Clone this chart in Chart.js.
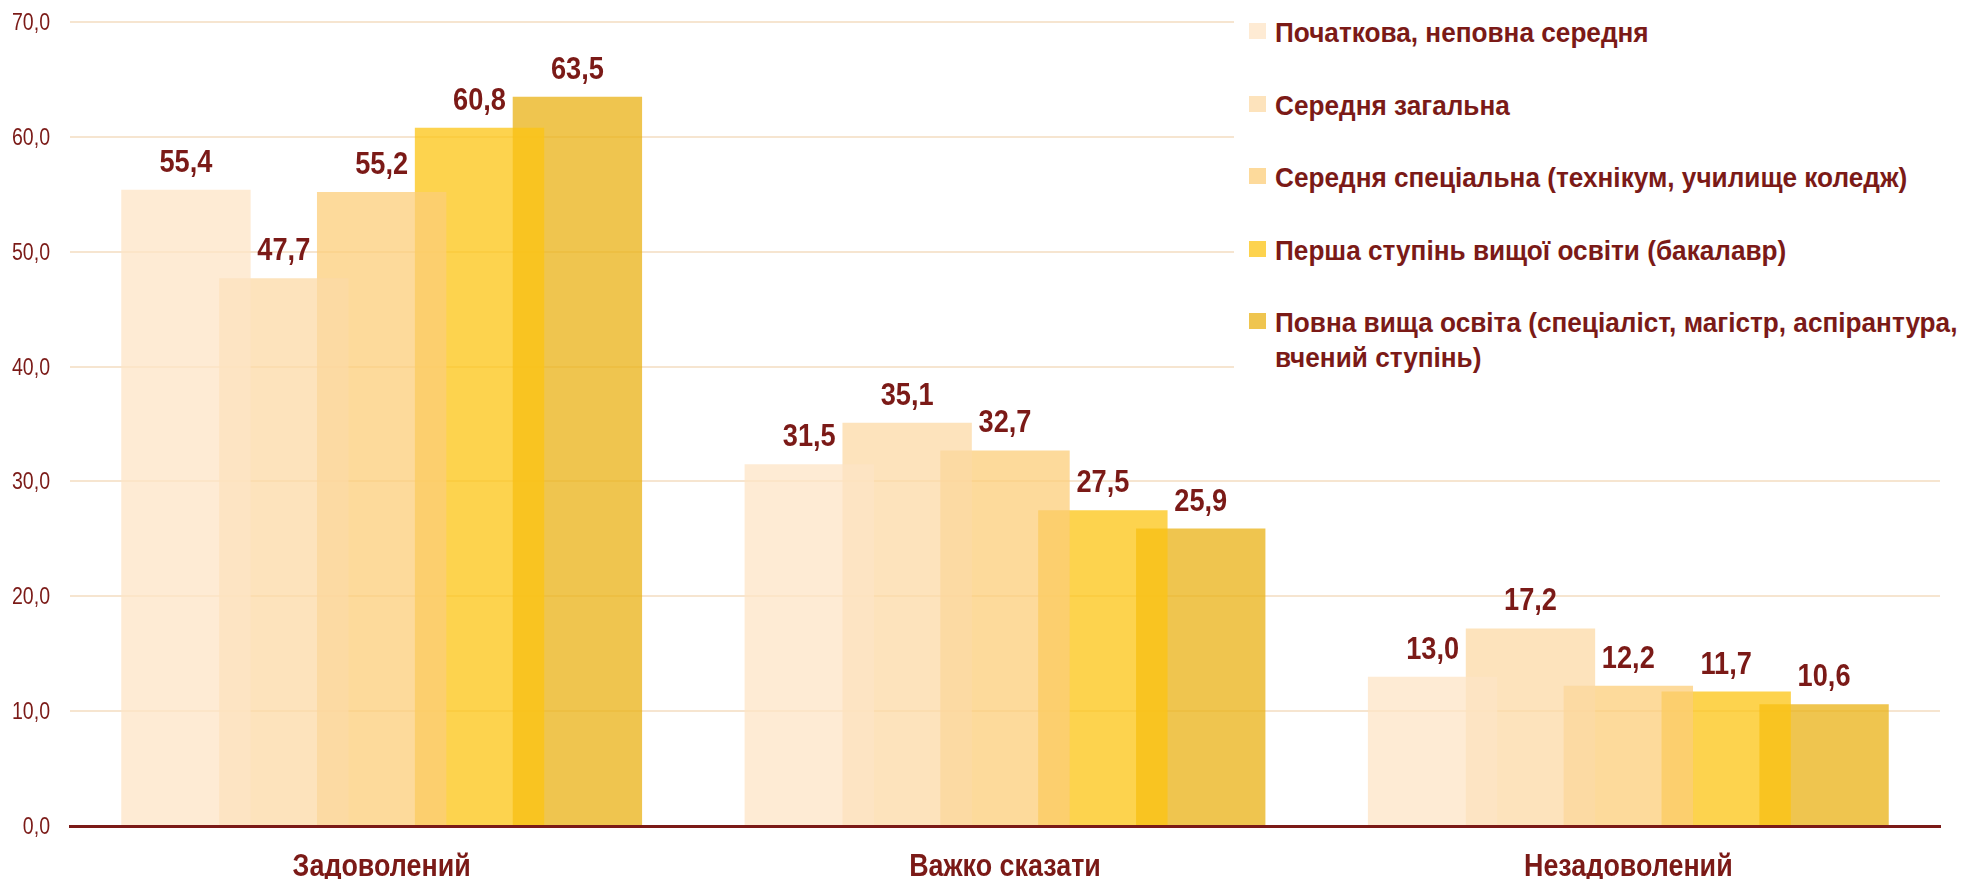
<!DOCTYPE html>
<html>
<head>
<meta charset="utf-8">
<script src="https://cdn.jsdelivr.net/npm/chart.js@4.4.1/dist/chart.umd.min.js"></script>
<style>
    body { margin: 0; background: #fff; }
    #wrap { position: relative; width: 1964px; height: 879px; overflow: hidden; }
    #legend {
        position: absolute; left: 1234px; top: 0; width: 730px; height: 378px;
        background: #fff; box-sizing: border-box; padding: 15px 0 0 15px;
        font-family: 'Liberation Sans', Arial, sans-serif;
        font-weight: bold; font-size: 28px; line-height: 35px; color: #7b1a17;
    }
    #legend ul { list-style: none; margin: 0; padding: 0; }
    #legend li { display: flex; align-items: flex-start; margin-bottom: 37.5px; }
    #legend .box { flex: none; width: 17px; height: 16px; margin: 8px 9px 0 0; }
    #legend .txt { flex: none; display: block; width: 770px; transform: scaleX(0.935); transform-origin: left top; }
</style>
</head>
<body>
<div id="wrap">
    <canvas id="eduChart" width="1964" height="879"></canvas>
    <div id="legend"></div>
</div>
<script>
const categories = ['Задоволений', 'Важко сказати', 'Незадоволений'];
const seriesNames = [
    'Початкова, неповна середня',
    'Середня загальна',
    'Середня спеціальна (технікум, училище коледж)',
    'Перша ступінь вищої освіти (бакалавр)',
    'Повна вища освіта (спеціаліст, магістр, аспірантура, вчений ступінь)'
];
const primary = [55.4, 31.5, 13.0];
const secondaryGeneral = [47.7, 35.1, 17.2];
const secondarySpecial = [55.2, 32.7, 12.2];
const bachelor = [60.8, 27.5, 11.7];
const fullHigher = [63.5, 25.9, 10.6];
const yTicks = [0, 10, 20, 30, 40, 50, 60, 70];

const colors = [
    'rgba(254, 228, 198, 0.75)',
    'rgba(252, 218, 166, 0.75)',
    'rgba(252, 206, 122, 0.75)',
    'rgba(252, 196, 19, 0.75)',
    'rgba(234, 178, 20, 0.75)'
];
const darkRed = '#7b1a17';
const fmt = v => v.toFixed(1).replace('.', ',');
const allSeries = [primary, secondaryGeneral, secondarySpecial, bachelor, fullHigher];

// narrow text: Arial Narrow is not installed, so squeeze Liberation Sans
function narrowText(ctx, text, x, y, font, sx, align) {
    ctx.save();
    ctx.font = font;
    ctx.fillStyle = darkRed;
    ctx.textAlign = align;
    ctx.textBaseline = 'alphabetic';
    ctx.translate(x, y);
    ctx.scale(sx, 1);
    ctx.fillText(text, 0, 0);
    ctx.restore();
}

const textPlugin = {
    id: 'textPlugin',
    afterDraw(chart) {
        const ctx = chart.ctx;
        const xs = chart.scales.x, ys = chart.scales.y;
        // value labels
        chart.data.datasets.forEach((ds, i) => {
            chart.getDatasetMeta(i).data.forEach((bar, j) => {
                narrowText(ctx, fmt(ds.data[j]), bar.x, bar.y - 18,
                    "bold 32px 'Liberation Sans', sans-serif", 0.85, 'center');
            });
        });
        // category labels
        chart.data.labels.forEach((lab, i) => {
            narrowText(ctx, lab, xs.getPixelForTick(i), 876,
                "bold 32px 'Liberation Sans', sans-serif", 0.84, 'center');
        });
        // y tick labels
        ys.ticks.forEach(t => {
            narrowText(ctx, fmt(t.value), 50, ys.getPixelForValue(t.value) + 8,
                "23px 'Liberation Sans', sans-serif", 0.85, 'right');
        });
    }
};

const ctx = document.getElementById('eduChart').getContext('2d');
const chart = new Chart(ctx, {
    type: 'bar',
    data: {
        labels: categories,
        datasets: allSeries.map((d, i) => ({
            label: seriesNames[i],
            data: d,
            backgroundColor: colors[i],
            borderWidth: 0,
            categoryPercentage: 0.785,
            barPercentage: 1.322
        }))
    },
    options: {
        responsive: false,
        animation: false,
        layout: { padding: { top: 22, right: 24, left: 0, bottom: 0 } },
        plugins: {
            legend: { display: false },
            tooltip: { enabled: false }
        },
        scales: {
            x: {
                afterFit: s => { s.height = 53; },
                grid: { display: false, drawTicks: false },
                border: { color: darkRed, width: 3, z: 1 },
                ticks: { display: false }
            },
            y: {
                min: 0,
                max: 70,
                afterFit: s => { s.width = 70; },
                afterBuildTicks: s => { s.ticks = yTicks.map(v => ({ value: v })); },
                grid: { color: '#f6e5d0', lineWidth: 2, drawTicks: false },
                border: { display: false },
                ticks: { display: false }
            }
        }
    },
    plugins: [textPlugin]
});

// html legend built from the datasets
const ul = document.createElement('ul');
chart.data.datasets.forEach(ds => {
    const li = document.createElement('li');
    const box = document.createElement('span');
    box.className = 'box';
    box.style.background = ds.backgroundColor;
    const txt = document.createElement('span');
    txt.className = 'txt';
    txt.textContent = ds.label;
    li.appendChild(box);
    li.appendChild(txt);
    ul.appendChild(li);
});
document.getElementById('legend').appendChild(ul);
</script>
</body>
</html>
